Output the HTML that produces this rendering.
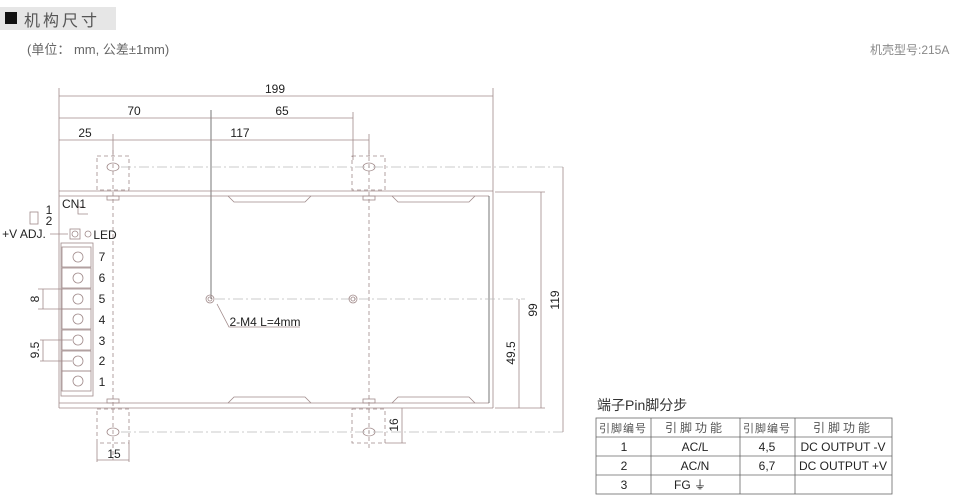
<!DOCTYPE html>
<html><head><meta charset="utf-8"><style>
body{margin:0;background:#fff;width:964px;height:498px;overflow:hidden;font-family:"Liberation Sans","Noto Sans CJK SC",sans-serif}
svg{position:absolute;left:0;top:0}
</style></head><body>
<svg width="964" height="498" viewBox="0 0 964 498" font-family="Liberation Sans, Noto Sans CJK SC, sans-serif">
<rect x="0" y="7" width="116" height="23" fill="#e6e6e6"/>
<rect x="5" y="12" width="12" height="12" fill="#111"/>
<text x="24" y="26" font-size="16" fill="#555" letter-spacing="3">机构尺寸</text>
<text x="27" y="54" font-size="13" fill="#666">(单位： mm, 公差±1mm)</text>
<text x="870" y="54" font-size="12" fill="#888">机壳型号:215A</text>

<g stroke="#a08a8a" fill="none" stroke-width="0.8">
<line x1="59" y1="88" x2="59" y2="191"/>
<line x1="493" y1="88" x2="493" y2="191"/>
<line x1="211" y1="110" x2="211" y2="299" stroke="#555"/>
<line x1="353" y1="112" x2="353" y2="160"/>
<line x1="113" y1="134" x2="113" y2="156"/>
<line x1="369" y1="134" x2="369" y2="156"/>
<line x1="59" y1="96" x2="493" y2="96"/>
<line x1="59" y1="118" x2="353" y2="118"/>
<line x1="59" y1="140" x2="369" y2="140"/>
<line x1="59" y1="191" x2="493" y2="191"/>
<line x1="59" y1="196" x2="489" y2="196"/>
<line x1="59" y1="191" x2="59" y2="408"/>
<line x1="59" y1="408" x2="493" y2="408"/>
<line x1="59" y1="403" x2="489" y2="403"/>
<line x1="493" y1="191" x2="493" y2="408"/>
<line x1="489" y1="196" x2="489" y2="403" stroke="#555"/>
<path d="M228 196 L234 202 L305 202 L311 196"/>
<path d="M392 196 L398 202 L469 202 L475 196"/>
<path d="M228 403 L234 397 L305 397 L311 403"/>
<path d="M392 403 L398 397 L469 397 L475 403"/>
<g stroke-dasharray="4,3">
<rect x="97" y="156" width="32" height="34"/>
<rect x="352" y="156" width="33" height="34"/>
<rect x="97" y="409" width="32" height="34"/>
<rect x="352" y="409" width="33" height="34"/>
<line x1="113" y1="150" x2="113" y2="460"/>
<line x1="369" y1="150" x2="369" y2="450"/>
</g>
<rect x="107" y="196" width="12" height="4"/>
<rect x="363" y="196" width="12" height="4"/>
<rect x="107" y="399" width="12" height="4"/>
<rect x="363" y="399" width="12" height="4"/>
<ellipse cx="113" cy="167" rx="6" ry="4"/>
<ellipse cx="369" cy="167" rx="6" ry="4"/>
<ellipse cx="113" cy="432" rx="6" ry="4"/>
<ellipse cx="369" cy="432" rx="6" ry="4"/>
<g stroke-dasharray="10,3,2,3" stroke="#bbb">
<line x1="121" y1="167" x2="565" y2="167"/>
<line x1="121" y1="432" x2="565" y2="432"/>
<line x1="215" y1="299" x2="525" y2="299"/>
</g>
<line x1="563" y1="167" x2="563" y2="432"/>
<line x1="541" y1="192" x2="541" y2="408"/>
<line x1="519" y1="299" x2="519" y2="408"/>
<line x1="495" y1="192" x2="545" y2="192"/>
<line x1="495" y1="408" x2="545" y2="408"/>
<line x1="402" y1="408" x2="402" y2="443"/>
<line x1="385" y1="443" x2="406" y2="443"/>
<line x1="97" y1="443" x2="97" y2="462"/>
<line x1="129" y1="443" x2="129" y2="462"/>
<line x1="97" y1="460" x2="129" y2="460"/>
<circle cx="210" cy="299" r="4"/><circle cx="210" cy="299" r="2"/>
<circle cx="353" cy="299" r="4"/><circle cx="353" cy="299" r="2"/>
<path d="M217 304 L229 327 L300 327"/>
<rect x="61" y="243" width="32" height="153"/>
<g>
<rect x="62" y="247" width="29" height="20"/><rect x="62" y="268" width="29" height="20"/>
<rect x="62" y="289" width="29" height="20"/><rect x="62" y="309" width="29" height="20"/>
<rect x="62" y="330" width="29" height="20"/><rect x="62" y="351" width="29" height="20"/>
<rect x="62" y="371" width="29" height="20"/>
</g>
<g>
<circle cx="78" cy="257" r="5"/><circle cx="78" cy="278" r="5"/><circle cx="78" cy="299" r="5"/>
<circle cx="78" cy="319" r="5"/><circle cx="78" cy="340" r="5"/><circle cx="78" cy="361" r="5"/>
<circle cx="78" cy="381" r="5"/>
</g>
<path d="M78 202 v12 h10 M78 207 h6"/>
<rect x="70" y="229" width="10" height="10"/><circle cx="75" cy="234" r="3"/>
<circle cx="88" cy="234" r="3"/>
<rect x="30" y="212" width="8" height="12"/>
<line x1="50" y1="234" x2="68" y2="234"/>
<line x1="38" y1="289" x2="62" y2="289"/><line x1="38" y1="309" x2="62" y2="309"/>
<line x1="43" y1="289" x2="43" y2="309"/>
<line x1="40" y1="340" x2="72" y2="340"/><line x1="40" y1="361" x2="72" y2="361"/>
<line x1="43" y1="340" x2="43" y2="361"/>
</g>
<g font-size="12" fill="#222" text-anchor="middle">
<text x="275" y="93">199</text>
<text x="134" y="115">70</text>
<text x="282" y="115">65</text>
<text x="85" y="137">25</text>
<text x="240" y="137">117</text>
<text x="102" y="261">7</text><text x="102" y="282">6</text><text x="102" y="303">5</text>
<text x="102" y="324">4</text><text x="102" y="345">3</text><text x="102" y="365">2</text><text x="102" y="386">1</text>
<text x="114" y="458">15</text>
<text x="265" y="326">2-M4 L=4mm</text>
<text x="74" y="208">CN1</text>
<text x="49" y="214">1</text><text x="49" y="225">2</text>
<text x="24" y="238">+V ADJ.</text>
<text x="105" y="239">LED</text>
<text transform="translate(39,299) rotate(-90)">8</text>
<text transform="translate(39,350) rotate(-90)">9.5</text>
<text transform="translate(515,353) rotate(-90)">49.5</text>
<text transform="translate(537,310) rotate(-90)">99</text>
<text transform="translate(559,300) rotate(-90)">119</text>
<text transform="translate(398,425) rotate(-90)">16</text>
</g>
<text x="597" y="410" font-size="14" fill="#333">端子Pin脚分步</text>
<g stroke="#666" fill="none" stroke-width="0.8">
<rect x="596" y="418" width="296" height="76"/>
<line x1="596" y1="437" x2="892" y2="437"/>
<line x1="596" y1="456" x2="892" y2="456"/>
<line x1="596" y1="475" x2="892" y2="475"/>
<line x1="651" y1="418" x2="651" y2="494"/>
<line x1="740" y1="418" x2="740" y2="494"/>
<line x1="795" y1="418" x2="795" y2="494"/>
</g>
<g font-size="12" fill="#222" text-anchor="middle">
<text x="623" y="432" fill="#555" font-size="11" letter-spacing="1">引脚编号</text>
<text x="695" y="432" fill="#555" letter-spacing="3">引脚功能</text>
<text x="767" y="432" fill="#555" font-size="11" letter-spacing="1">引脚编号</text>
<text x="843" y="432" fill="#555" letter-spacing="3">引脚功能</text>
<text x="624" y="451">1</text><text x="695" y="451">AC/L</text><text x="767" y="451">4,5</text><text x="843" y="451">DC OUTPUT -V</text>
<text x="624" y="470">2</text><text x="695" y="470">AC/N</text><text x="767" y="470">6,7</text><text x="843" y="470">DC OUTPUT +V</text>
<text x="624" y="489">3</text><text x="690" y="489">FG ⏚</text>
</g>
</svg>
</body></html>
